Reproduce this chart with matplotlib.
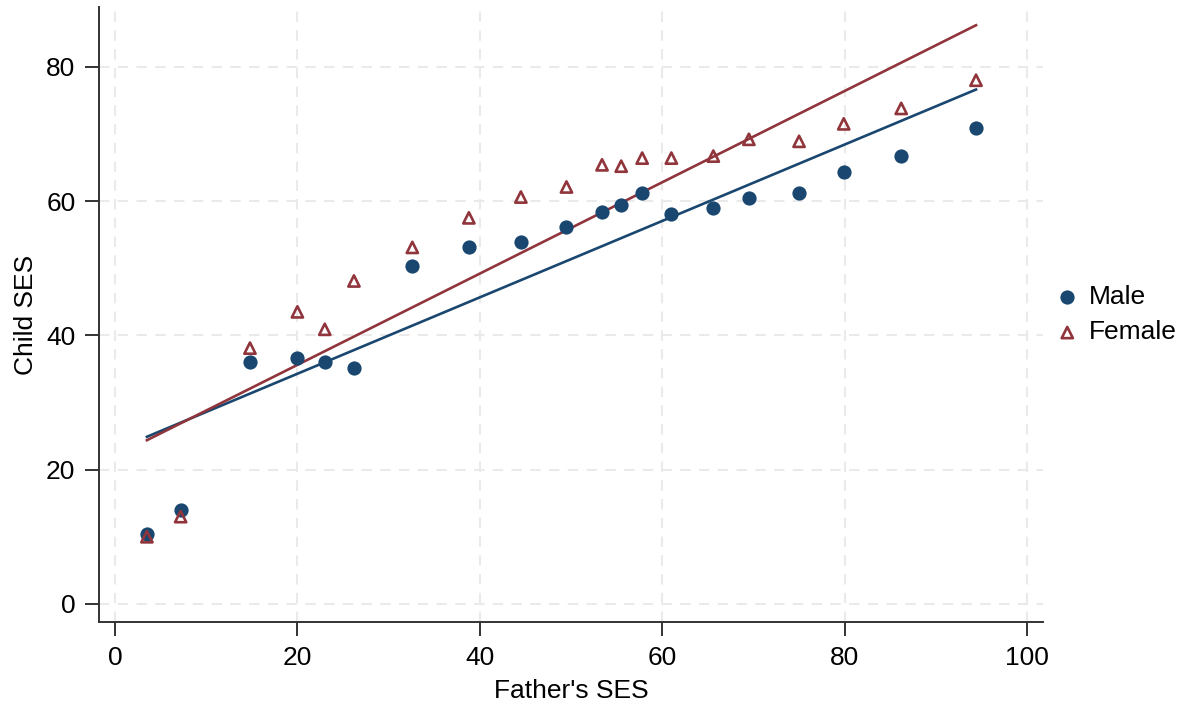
import numpy as np
import matplotlib
matplotlib.use("Agg")
from matplotlib import pyplot as plt

plt.rcParams['font.family'] = ['Liberation Sans', 'DejaVu Sans']

# father's SES (same for both groups)
father_ses = [3.5, 7.2, 14.8, 20.0, 23.0, 26.2, 32.6, 38.8, 44.5, 49.5,
              53.4, 55.5, 57.8, 61.0, 65.6, 69.5, 75.0, 79.9, 86.2, 94.4]
male_ses = [10.4, 14.0, 36.0, 36.6, 36.0, 35.1, 50.3, 53.1, 53.9, 56.1,
            58.4, 59.4, 61.2, 58.1, 59.0, 60.4, 61.2, 64.3, 66.7, 70.9]
female_ses = [10.0, 13.0, 38.1, 43.5, 40.9, 48.1, 53.1, 57.5, 60.6, 62.1,
              65.4, 65.2, 66.4, 66.4, 66.7, 69.2, 68.9, 71.5, 73.8, 78.0]
# fitted lines (intercept, slope)
male_fit = (22.9, 0.569)
female_fit = (22.0, 0.680)

navy = '#1a476f'
maroon = '#90353b'

fig = plt.figure(figsize=(11.83, 7.05), dpi=100)
ax = fig.add_axes([0.0837, 0.1177, 0.7980, 0.8723])

x = np.array(father_ses)
ax.scatter(x, male_ses, s=105, color=navy, zorder=3, label='Male', linewidths=0)
ax.scatter(x, female_ses, s=65, marker='^', facecolors='none', edgecolors=maroon,
           linewidths=1.9, zorder=3, label='Female')

xl = np.array([x.min(), x.max()])
ax.plot(xl, male_fit[0] + male_fit[1] * xl, color=navy, lw=1.9, zorder=2)
ax.plot(xl, female_fit[0] + female_fit[1] * xl, color=maroon, lw=1.9, zorder=2)

ax.set_xlim(-1.75, 101.75)
ax.set_ylim(-2.7, 88.9)
ax.set_xticks(range(0, 101, 20))
ax.set_yticks(range(0, 81, 20))
ax.grid(True, color='#eaeaea', ls=(0, (5, 4)), lw=1.5)
ax.set_axisbelow(True)

for s in ['top', 'right']:
    ax.spines[s].set_visible(False)
for s in ['left', 'bottom']:
    ax.spines[s].set_color('#333333')
    ax.spines[s].set_linewidth(1.4)
ax.tick_params(length=10, width=1.4, color='#333333', labelsize=19, pad=7)

ax.set_xlabel("Father's SES", fontsize=19, labelpad=7)
ax.set_ylabel("Child SES", fontsize=19, labelpad=6)

ax.legend(loc='center left', bbox_to_anchor=(1.0117, 0.5), frameon=False,
          fontsize=19, handlelength=1.0, handletextpad=0.3, labelspacing=0.45,
          borderaxespad=0, borderpad=0)

fig.savefig('out.png', dpi=100)
